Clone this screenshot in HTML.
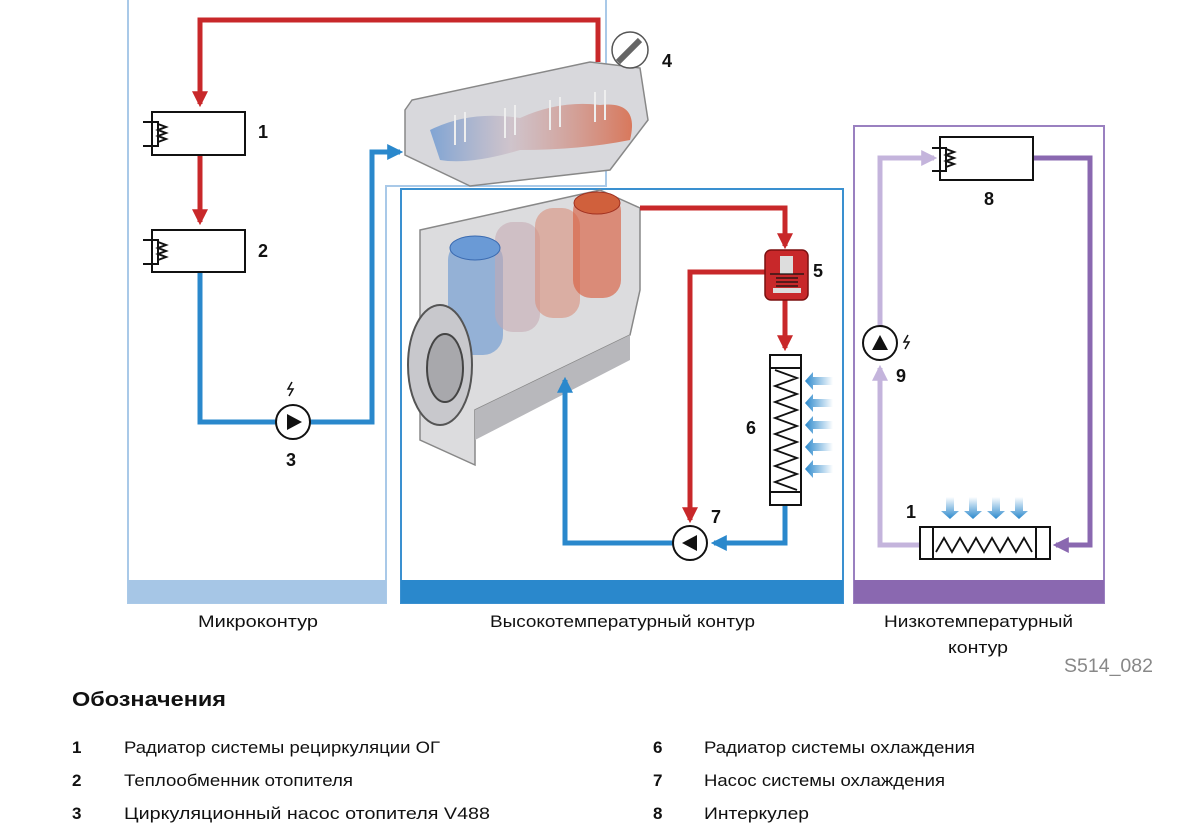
<!DOCTYPE html>
<html><head><meta charset="utf-8"><style>
body{margin:0;background:#fff;width:1200px;height:832px;overflow:hidden;font-family:"Liberation Sans","DejaVu Sans",sans-serif}
svg text{font-family:"Liberation Sans","DejaVu Sans",sans-serif}
</style></head><body>
<svg width="1200" height="832" viewBox="0 0 1200 832" xmlns="http://www.w3.org/2000/svg">
<defs>
<marker id="ar" viewBox="0 0 10 10" refX="8" refY="5" markerWidth="3.2" markerHeight="3.2" orient="auto"><path d="M0,0L10,5L0,10z" fill="#c8282a"/></marker>
<marker id="ab" viewBox="0 0 10 10" refX="8" refY="5" markerWidth="3.2" markerHeight="3.2" orient="auto"><path d="M0,0L10,5L0,10z" fill="#2a88cc"/></marker>
<marker id="ap" viewBox="0 0 10 10" refX="8" refY="5" markerWidth="3.2" markerHeight="3.2" orient="auto"><path d="M0,0L10,5L0,10z" fill="#8a68b0"/></marker>
<marker id="al" viewBox="0 0 10 10" refX="8" refY="5" markerWidth="3.2" markerHeight="3.2" orient="auto"><path d="M0,0L10,5L0,10z" fill="#c4b4dc"/></marker>
<linearGradient id="cyl" x1="0" x2="1"><stop offset="0" stop-color="#5a8ed0" stop-opacity=".7"/><stop offset=".4" stop-color="#c9b6c0" stop-opacity=".6"/><stop offset="1" stop-color="#d8603c" stop-opacity=".8"/></linearGradient>
<linearGradient id="ag" x1="1" x2="0"><stop offset="0" stop-color="#2a88cc" stop-opacity="0"/><stop offset="1" stop-color="#2a88cc"/></linearGradient>
<linearGradient id="agd" y1="0" y2="1" x1="0" x2="0"><stop offset="0" stop-color="#2a88cc" stop-opacity="0"/><stop offset="1" stop-color="#2a88cc"/></linearGradient>
</defs>

<path d="M128,0 V603 H386 V186 H606 V0" fill="none" stroke="#a9c9e8" stroke-width="2"/>
<rect x="128" y="580" width="258" height="23" fill="#a6c6e6"/>
<rect x="401" y="189" width="442" height="414" fill="none" stroke="#3a90d0" stroke-width="2"/>
<rect x="401" y="580" width="442" height="23" fill="#2a88cc"/>
<rect x="854" y="126" width="250" height="477" fill="none" stroke="#9a80c0" stroke-width="2"/>
<rect x="854" y="580" width="250" height="23" fill="#8a68b0"/>

<path d="M598,62 V20 H200 V104" fill="none" stroke="#c8282a" stroke-width="5" marker-end="url(#ar)"/>
<path d="M200,155 V222" fill="none" stroke="#c8282a" stroke-width="5" marker-end="url(#ar)"/>
<path d="M200,272 V422 H276" fill="none" stroke="#2a88cc" stroke-width="5"/>
<path d="M310,422 H372 V152 H400" fill="none" stroke="#2a88cc" stroke-width="5" marker-end="url(#ab)"/>
<g stroke="#111" stroke-width="2" fill="#fff">
<rect x="152" y="112" width="93" height="43"/><rect x="152" y="230" width="93" height="42"/>
</g>
<g fill="none" stroke="#111" stroke-width="2">
<path d="M143,122 H158 V146 H143 M158,124 l8,3 l-8,3 l8,3 l-8,3 l8,3 l-8,3"/>
<path d="M143,240 H158 V264 H143 M158,242 l8,3 l-8,3 l8,3 l-8,3 l8,3 l-8,3"/>
</g>
<circle cx="293" cy="422" r="17" fill="#fff" stroke="#111" stroke-width="2"/>
<path d="M287,414 L302,422 L287,430z" fill="#111"/>
<path d="M292,382 l-4,7 h5 l-4,7" fill="none" stroke="#111" stroke-width="1.5"/>

<path d="M405,110 L412,100 L590,62 L640,68 L648,120 L610,170 L470,186 L405,155z" fill="#d8d8dc" stroke="#888" stroke-width="1.5"/>
<path d="M430,130 Q470,110 520,118 Q560,100 600,105 Q640,100 630,140 Q580,150 520,150 Q470,165 440,160z" fill="url(#cyl)"/>
<g stroke="#eee" stroke-width="2"><path d="M455,115v30M465,112v30M505,108v30M515,105v30M550,100v30M560,97v30M595,92v30M605,90v30"/></g>
<circle cx="630" cy="50" r="18" fill="#fff" stroke="#555" stroke-width="1.5"/>
<path d="M618,62 L640,40" stroke="#666" stroke-width="6"/>

<path d="M420,230 L600,190 L640,208 L640,290 L630,335 L475,410 L475,465 L420,440z" fill="#dcdcde" stroke="#888" stroke-width="1.5"/>
<path d="M475,410 L630,335 L630,360 L475,440z" fill="#b8b8bc"/>
<rect x="448" y="240" width="55" height="115" rx="20" fill="#5a8ed0" opacity=".55"/>
<rect x="495" y="222" width="45" height="110" rx="18" fill="#c4a8b0" opacity=".55"/>
<rect x="535" y="208" width="45" height="110" rx="18" fill="#d8907c" opacity=".6"/>
<rect x="573" y="193" width="48" height="105" rx="18" fill="#d86040" opacity=".65"/>
<ellipse cx="475" cy="248" rx="25" ry="12" fill="#6a9ad6" stroke="#3a6ab0"/>
<ellipse cx="597" cy="203" rx="23" ry="11" fill="#d0603c" stroke="#a03020"/>
<ellipse cx="440" cy="365" rx="32" ry="60" fill="#c8c8cc" stroke="#555" stroke-width="2"/>
<ellipse cx="445" cy="368" rx="18" ry="34" fill="#a8a8ac" stroke="#444" stroke-width="2"/>

<path d="M640,208 H785 V246" fill="none" stroke="#c8282a" stroke-width="5" marker-end="url(#ar)"/>
<path d="M765,272 H690 V520" fill="none" stroke="#c8282a" stroke-width="5" marker-end="url(#ar)"/>
<path d="M785,300 V348" fill="none" stroke="#c8282a" stroke-width="5" marker-end="url(#ar)"/>
<path d="M785,505 V543 H714" fill="none" stroke="#2a88cc" stroke-width="5" marker-end="url(#ab)"/>
<path d="M673,543 H565 V380" fill="none" stroke="#2a88cc" stroke-width="5" marker-end="url(#ab)"/>
<rect x="765" y="250" width="43" height="50" rx="6" fill="#c8282a" stroke="#7a1010" stroke-width="1.5"/>
<rect x="780" y="256" width="13" height="18" fill="#ddd"/><rect x="773" y="288" width="28" height="5" fill="#ddd"/>
<path d="M770,274 h34 M776,278 h22 M776,282 h22 M776,286 h22" stroke="#111" stroke-width="1.3"/>
<rect x="770" y="355" width="31" height="150" fill="#fff" stroke="#111" stroke-width="2"/>
<path d="M770,368 h31 M770,492 h31" stroke="#111" stroke-width="2"/>
<path d="M775,370 l22,8 l-22,8 l22,8 l-22,8 l22,8 l-22,8 l22,8 l-22,8 l22,8 l-22,8 l22,8 l-22,8 l22,8 l-22,8 l22,8" fill="none" stroke="#111" stroke-width="1.8"/>
<g fill="url(#ag)">
<path d="M833,377h-20v-5l-8,9l8,9v-5h20z"/><path d="M833,399h-20v-5l-8,9l8,9v-5h20z"/><path d="M833,421h-20v-5l-8,9l8,9v-5h20z"/><path d="M833,443h-20v-5l-8,9l8,9v-5h20z"/><path d="M833,465h-20v-5l-8,9l8,9v-5h20z"/>
</g>
<circle cx="690" cy="543" r="17" fill="#fff" stroke="#111" stroke-width="2"/>
<path d="M697,535 L682,543 L697,551z" fill="#111"/>

<path d="M1033,158 H1090 V545 H1056" fill="none" stroke="#8a68b0" stroke-width="5" marker-end="url(#ap)"/>
<path d="M920,545 H880 V368" fill="none" stroke="#c4b4dc" stroke-width="5" marker-end="url(#al)"/>
<path d="M880,326 V158 H934" fill="none" stroke="#c4b4dc" stroke-width="5" marker-end="url(#al)"/>
<rect x="940" y="137" width="93" height="43" fill="#fff" stroke="#111" stroke-width="2"/>
<path d="M932,148 H946 V171 H932 M946,149 l8,3 l-8,3 l8,3 l-8,3 l8,3 l-8,3" fill="none" stroke="#111" stroke-width="2"/>
<rect x="920" y="527" width="130" height="32" fill="#fff" stroke="#111" stroke-width="2"/>
<path d="M933,527v32 M1036,527v32" stroke="#111" stroke-width="2"/>
<path d="M936,552 l8,-14 l8,14 l8,-14 l8,14 l8,-14 l8,14 l8,-14 l8,14 l8,-14 l8,14 l8,-14 l8,14" fill="none" stroke="#111" stroke-width="1.8"/>
<g fill="url(#agd)">
<path d="M946,497v14h-5l9,8l9,-8h-5v-14z"/><path d="M969,497v14h-5l9,8l9,-8h-5v-14z"/><path d="M992,497v14h-5l9,8l9,-8h-5v-14z"/><path d="M1015,497v14h-5l9,8l9,-8h-5v-14z"/>
</g>
<circle cx="880" cy="343" r="17" fill="#fff" stroke="#111" stroke-width="2"/>
<path d="M872,350 L880,335 L888,350z" fill="#111"/>
<path d="M908,335 l-4,7 h5 l-4,7" fill="none" stroke="#111" stroke-width="1.5"/>

<g font-weight="bold" font-size="18" fill="#111">
<text x="258" y="138">1</text><text x="258" y="257">2</text><text x="286" y="466">3</text>
<text x="662" y="67">4</text><text x="813" y="277">5</text><text x="746" y="434">6</text>
<text x="711" y="523">7</text><text x="984" y="205">8</text><text x="896" y="382">9</text><text x="906" y="518">1</text>
</g>
<g font-size="17" fill="#111" lengthAdjust="spacingAndGlyphs">
<text x="198" y="627" textLength="120" lengthAdjust="spacingAndGlyphs">Микроконтур</text>
<text x="490" y="627" textLength="265" lengthAdjust="spacingAndGlyphs">Высокотемпературный контур</text>
<text x="884" y="627" textLength="189" lengthAdjust="spacingAndGlyphs">Низкотемпературный</text>
<text x="948" y="653" textLength="60" lengthAdjust="spacingAndGlyphs">контур</text>
</g>
<text x="1064" y="672" font-size="19" fill="#888" textLength="89" lengthAdjust="spacingAndGlyphs">S514_082</text>
<text x="72" y="706" font-size="20" font-weight="bold" fill="#111" textLength="154" lengthAdjust="spacingAndGlyphs">Обозначения</text>
<g font-size="17" fill="#111">
<text x="72" y="753" font-weight="bold">1</text><text x="124" y="753" textLength="316" lengthAdjust="spacingAndGlyphs">Радиатор системы рециркуляции ОГ</text>
<text x="72" y="786" font-weight="bold">2</text><text x="124" y="786" textLength="229" lengthAdjust="spacingAndGlyphs">Теплообменник отопителя</text>
<text x="72" y="819" font-weight="bold">3</text><text x="124" y="819" textLength="366" lengthAdjust="spacingAndGlyphs">Циркуляционный насос отопителя V488</text>
<text x="653" y="753" font-weight="bold">6</text><text x="704" y="753" textLength="271" lengthAdjust="spacingAndGlyphs">Радиатор системы охлаждения</text>
<text x="653" y="786" font-weight="bold">7</text><text x="704" y="786" textLength="241" lengthAdjust="spacingAndGlyphs">Насос системы охлаждения</text>
<text x="653" y="819" font-weight="bold">8</text><text x="704" y="819" textLength="105" lengthAdjust="spacingAndGlyphs">Интеркулер</text>
</g>
</svg>
</body></html>
